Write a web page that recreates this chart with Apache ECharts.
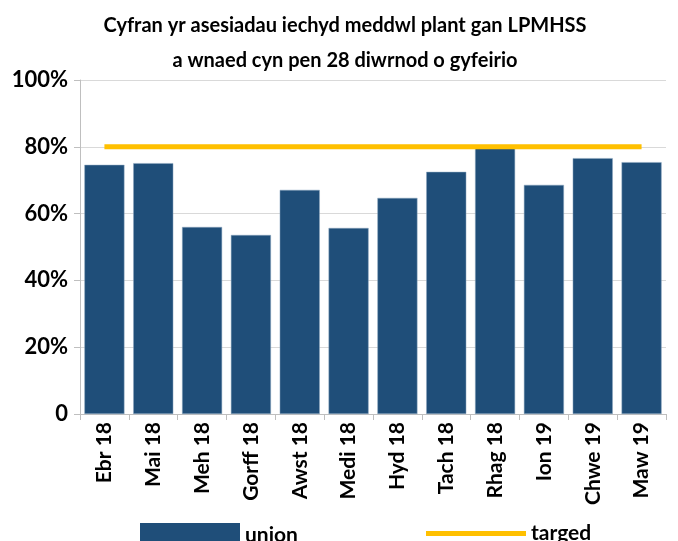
<!DOCTYPE html>
<html>
<head>
<meta charset="utf-8">
<script src="https://cdn.jsdelivr.net/npm/echarts@6/dist/echarts.min.js"></script>
<style>
  html, body { margin: 0; padding: 0; background: #fff; }
  #chart { width: 678px; height: 541px; }
</style>
</head>
<body>
<div id="chart"></div>
<script>
var months = ['Ebr 18', 'Mai 18', 'Meh 18', 'Gorff 18', 'Awst 18', 'Medi 18', 'Hyd 18', 'Tach 18', 'Rhag 18', 'Ion 19', 'Chwe 19', 'Maw 19'];
var unionValues = [74.6, 75.1, 56.0, 53.6, 67.1, 55.7, 64.7, 72.5, 79.9, 68.6, 76.6, 75.4];
var targetValues = [80, 80, 80, 80, 80, 80, 80, 80, 80, 80, 80, 80];

var myChart = echarts.init(document.getElementById('chart'));
var font = 'Lato, "Liberation Sans", sans-serif';
var option = {
    animation: false,
    textStyle: { fontFamily: font },
    title: {
        text: 'Cyfran yr asesiadau iechyd meddwl plant gan LPMHSS\na wnaed cyn pen 28 diwrnod o gyfeirio',
        left: 340,
        textAlign: 'center',
        top: 3,
        textStyle: {
            fontFamily: font,
            fontSize: 20,
            fontWeight: 'bold',
            color: '#000',
            lineHeight: 35
        }
    },
    grid: {
        left: 80,
        right: 12,
        top: 80,
        bottom: 127
    },
    legend: [{
        data: [{ name: 'union', icon: 'rect' }],
        left: 135,
        top: 518,
        itemWidth: 100,
        itemHeight: 24,
        itemGap: 6,
        itemStyle: { borderWidth: 0 },
        textStyle: { fontSize: 21, fontWeight: 'bold', color: '#000', fontFamily: font, padding: [6, 0, 0, 0] }
    }, {
        data: [{ name: 'targed', icon: 'rect' }],
        left: 421,
        top: 518,
        itemWidth: 100,
        itemHeight: 5,
        itemStyle: { borderWidth: 0 },
        textStyle: { fontSize: 21, fontWeight: 'bold', color: '#000', fontFamily: font }
    }],
    xAxis: {
        type: 'category',
        data: months,
        axisLine: { lineStyle: { color: '#BFBFBF', width: 1 } },
        axisTick: { show: true, length: 6, lineStyle: { color: '#BFBFBF' } },
        axisLabel: {
            rotate: 90,
            interval: 0,
            margin: 8,
            color: '#000',
            fontSize: 21,
            fontWeight: 'bold',
            fontFamily: font
        }
    },
    yAxis: {
        type: 'value',
        min: 0,
        max: 100,
        interval: 20,
        axisLine: { show: true, lineStyle: { color: '#BFBFBF' } },
        axisTick: { show: true, length: 6, lineStyle: { color: '#BFBFBF' } },
        splitLine: { lineStyle: { color: '#D9D9D9' } },
        axisLabel: {
            margin: 12,
            color: '#000',
            fontSize: 22,
            fontWeight: 'bold',
            fontFamily: font,
            formatter: function (v) { return v === 0 ? '0' : v + '%'; }
        }
    },
    series: [{
        name: 'union',
        type: 'bar',
        data: unionValues,
        barCategoryGap: '18%',
        itemStyle: { color: '#1F4E79', borderColor: '#8EA9C1', borderWidth: 0.5 }
    }, {
        name: 'targed',
        type: 'line',
        data: targetValues,
        symbol: 'none',
        lineStyle: { color: '#FFC000', width: 5 },
        itemStyle: { color: '#FFC000' }
    }]
};
myChart.setOption(option);
</script>
</body>
</html>
